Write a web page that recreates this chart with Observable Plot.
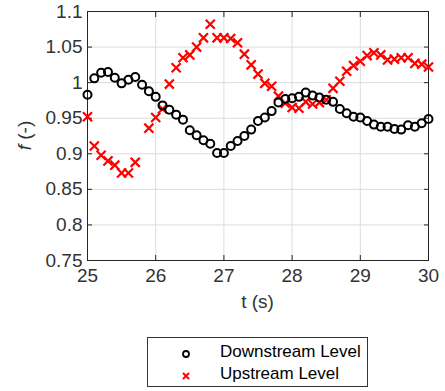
<!DOCTYPE html>
<html><head><meta charset="utf-8">
<script src="https://cdn.jsdelivr.net/npm/d3@7"></script>
<script src="https://cdn.jsdelivr.net/npm/@observablehq/plot@0.6"></script>
<style>
body{margin:0;background:#fff;font-family:"Liberation Sans",Arial,sans-serif;}
#wrap{position:relative;width:445px;height:391px;}
#legend{position:absolute;left:147px;top:337px;width:221px;height:50px;border:1px solid #333;background:#fff;box-sizing:border-box;}
.row{position:absolute;left:0;font-size:17px;color:#000;}
.row svg{position:absolute;left:30px;top:4px;}
.row span{position:absolute;left:72px;white-space:nowrap;}
</style></head>
<body><div id="wrap"></div>
<script>
const t = d3.range(51).map(i => +(25 + i * 0.1).toFixed(1));
const downstream = [0.983,1.006,1.014,1.015,1.007,0.999,1.004,1.008,0.997,0.988,
  0.980,0.968,0.962,0.955,0.948,0.933,0.926,0.919,0.914,0.901,
  0.901,0.911,0.918,0.925,0.934,0.946,0.951,0.960,0.972,0.977,
  0.978,0.980,0.986,0.982,0.979,0.976,0.973,0.963,0.957,0.952,
  0.951,0.946,0.941,0.938,0.938,0.935,0.934,0.940,0.938,0.943,0.949];
const upstream = [0.952,0.911,0.898,0.890,0.884,0.873,0.873,0.888,null,0.936,
  0.951,0.963,0.998,1.021,1.035,1.039,1.050,1.063,1.082,1.063,
  1.063,1.062,1.056,1.040,1.025,1.012,0.999,0.995,0.981,0.971,
  0.965,0.964,0.973,0.970,0.972,0.976,0.992,1.002,1.016,1.024,
  1.030,1.038,1.042,1.039,1.032,1.033,1.035,1.035,1.027,1.026,1.022];
const xTicks = [25,26,27,28,29,30];
const yTicks = [0.75,0.8,0.85,0.9,0.95,1,1.05,1.1];
const yTickLabels = ["0.75","0.8","0.85","0.9","0.95","1","1.05","1.1"];
const seriesNames = ["Downstream Level","Upstream Level"];

const dData = t.map((x,i)=>({t:x, f:downstream[i]}));
const uData = t.map((x,i)=>({t:x, f:upstream[i]})).filter(d=>d.f!=null);

const axisColor = "#262626";
const chart = Plot.plot({
  width:445, height:391,
  marginLeft:87, marginRight:17, marginTop:11, marginBottom:131,
  style:{fontFamily:"'Liberation Sans',Arial,sans-serif", fontSize:"19px", color:axisColor, background:"#fff"},
  x:{domain:[25,30]},
  y:{domain:[0.75,1.1]},
  marks:[
    Plot.gridX(xTicks,{stroke:"#dcdcdc", strokeOpacity:1}),
    Plot.gridY(yTicks,{stroke:"#dcdcdc", strokeOpacity:1}),
    Plot.axisX(xTicks,{tickSize:0, tickPadding:8, label:null, fontSize:19, fill:"#333"}),
    Plot.axisY(yTicks,{tickSize:0, tickPadding:5, label:null, fontSize:19, fill:"#333", tickFormat:(d,i)=>yTickLabels[i]}),
    Plot.axisX(xTicks,{anchor:"bottom", tickSize:-5, text:null, label:null, stroke:axisColor}),
    Plot.axisX(xTicks,{anchor:"top", tickSize:-5, text:null, label:null, stroke:axisColor}),
    Plot.axisY(yTicks,{anchor:"left", tickSize:-5, text:null, label:null, stroke:axisColor}),
    Plot.axisY(yTicks,{anchor:"right", tickSize:-5, text:null, label:null, stroke:axisColor}),
    Plot.frame({stroke:axisColor, strokeWidth:1}),
    Plot.dot(uData,{x:"t", y:"f", symbol:"times", r:4.2, stroke:"#ff0000", strokeWidth:2.2}),
    Plot.dot(dData,{x:"t", y:"f", symbol:"circle", r:4, stroke:"#000", strokeWidth:2, fill:"none"}),
  ]
});
document.getElementById("wrap").appendChild(chart);

const svg = d3.select(chart);
svg.append("text").attr("x",257.5).attr("y",308).attr("text-anchor","middle")
  .attr("font-size",19).attr("fill","#333").text("t (s)");
const yl = svg.append("text").attr("transform","translate(31,135.5) rotate(-90)")
  .attr("text-anchor","middle").attr("font-size",19).attr("fill","#333");
yl.append("tspan").attr("font-style","italic").text("f");
yl.append("tspan").text(" (-)");

const leg = document.createElement("div");
leg.id = "legend";
leg.innerHTML = `
<div class="row" style="top:4px"><svg width="16" height="16"><circle cx="8" cy="8" r="3" fill="none" stroke="#000" stroke-width="1.8"/></svg><span>${seriesNames[0]}</span></div>
<div class="row" style="top:26px"><svg width="16" height="16"><path d="M5,5L11,11M11,5L5,11" stroke="#ff0000" stroke-width="2"/></svg><span>${seriesNames[1]}</span></div>`;
document.getElementById("wrap").appendChild(leg);
</script></body></html>
